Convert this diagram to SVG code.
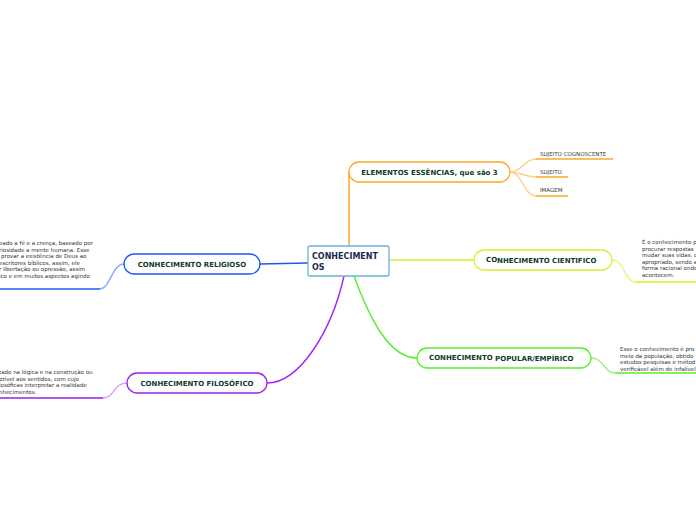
<svg xmlns="http://www.w3.org/2000/svg" width="696" height="520" viewBox="0 0 696 520">
<style>
.lbl{font-family:"DejaVu Sans",Verdana,sans-serif;font-weight:bold;font-size:7px;fill:#0f3a2c}
.ctr{font-family:"DejaVu Sans",Verdana,sans-serif;font-weight:bold;font-size:8px;fill:#1b2a4e}
.sm{font-family:"DejaVu Sans",Verdana,sans-serif;font-size:5.5px;fill:#333}
.node{fill:#fff;stroke-width:1.3}
.con{fill:none;stroke-width:1.4}
</style>
<rect width="696" height="520" fill="#fff"/>
<g id="connectors">
  <path class="con" d="M349,246 V172" stroke="#ff9f1c"/>
  <path class="con" d="M510,172 C522,172 524,159 536,159" stroke="#ffd08a" stroke-width="1"/>
  <path class="con" d="M510,172 C522,172 524,177 536,177" stroke="#ffd08a" stroke-width="1"/>
  <path class="con" d="M510,172 C522,172 524,196 536,196" stroke="#ffd08a" stroke-width="1"/>
  <path class="con" d="M536,159 H613 M536,177 H568 M536,196 H568" stroke="#ffa726" stroke-width="1.8"/>
  <path class="con" d="M308,263 L260,264" stroke="#2456e6"/>
  <path class="con" d="M124,264 C112,264 110,289 100,289" stroke="#86aaff" stroke-width="1"/>
  <path class="con" d="M100,289 H0" stroke="#1e5bf0" stroke-width="1.6"/>
  <path class="con" d="M344,276 C332,330 300,383 267,383" stroke="#a225f5"/>
  <path class="con" d="M127,383 C113,383 115,398 103,398" stroke="#d49cff" stroke-width="1"/>
  <path class="con" d="M103,398 H0" stroke="#9a1fe8" stroke-width="1.6"/>
  <path class="con" d="M389,260 H474" stroke="#d6f032"/>
  <path class="con" d="M612,260 C625,260 624,282 636,282" stroke="#e4f77a" stroke-width="1"/>
  <path class="con" d="M636,282 H696" stroke="#d6f032" stroke-width="2"/>
  <path class="con" d="M354,276 C370,320 390,358 417,358" stroke="#55ee2a"/>
  <path class="con" d="M591,358 C604,358 604,373 615,373" stroke="#9ef07e" stroke-width="1"/>
  <path class="con" d="M615,373 H696" stroke="#55ee2a" stroke-width="1.8"/>
</g>
<g id="center">
  <rect class="node" x="308" y="246" width="81" height="30" rx="2" stroke="#6aaee0" stroke-width="1.5"/>
  <text class="ctr" x="312" y="259">CONHECIMENT</text>
  <text class="ctr" x="312" y="270">OS</text>
</g>
<g id="elementos">
  <rect class="node" x="349" y="162" width="161" height="20" rx="10" stroke="#ffa726"/>
  <text class="lbl" x="429.5" y="174.5" text-anchor="middle">ELEMENTOS ESSÊNCIAS, que são 3</text>
</g>
<g id="sujeito-cognoscente"><text class="sm" x="540" y="156">SUJEITO COGNOSCENTE</text></g>
<g id="sujeito"><text class="sm" x="540" y="174">SUJEITO</text></g>
<g id="imagem"><text class="sm" x="540" y="192">IMAGEM</text></g>
<g id="religioso">
  <rect class="node" x="124" y="254" width="136" height="20" rx="10" stroke="#1a56ee"/>
  <text class="lbl" x="192" y="266.5" text-anchor="middle">CONHECIMENTO RELIGIOSO</text>
</g>
<g id="religioso-text">
  <text class="sm" x="-1" y="245">eado a fé e a crença, baseado por</text>
  <text class="sm" x="-1" y="251.5">riosidade a mente humana. Esse</text>
  <text class="sm" x="1" y="258">provar a existência de Deus ao</text>
  <text class="sm" x="-1" y="264.5">escritores bíblicos, assim, ele</text>
  <text class="sm" x="-1" y="271">r libertação ou opressão, assim</text>
  <text class="sm" x="-1" y="277.5">ico e em muitos aspectos agindo</text>
</g>
<g id="filosofico">
  <rect class="node" x="127" y="373" width="140" height="20" rx="10" stroke="#9a1fe8"/>
  <text class="lbl" x="197" y="385.5" text-anchor="middle">CONHECIMENTO FILOSÓFICO</text>
</g>
<g id="filosofico-text">
  <text class="sm" x="-1" y="374">tado na lógica e na construção ou</text>
  <text class="sm" x="-1" y="380.5">ptível aos sentidos, com cujo</text>
  <text class="sm" x="-1" y="387">losóficas interpretar a realidade</text>
  <text class="sm" x="-1" y="393.5">nhecimentos.</text>
</g>
<g id="cientifico">
  <rect class="node" x="474" y="250" width="138" height="20" rx="10" stroke="#d6f032"/>
  <text class="lbl" x="486" y="261.5">CO<tspan dy="1.5">NHECIMENTO CIENTIFICO</tspan></text>
</g>
<g id="cientifico-text">
  <text class="sm" x="642" y="244">É o conhecimento p</text>
  <text class="sm" x="642" y="250.5">procurar respostas</text>
  <text class="sm" x="642" y="257">mudar suas vidas. c</text>
  <text class="sm" x="642" y="263.5">apropriado, sendo a</text>
  <text class="sm" x="642" y="270">forma racional onde</text>
  <text class="sm" x="642" y="276.5">acontecem.</text>
</g>
<g id="popular">
  <rect class="node" x="417" y="348" width="174" height="20" rx="10" stroke="#55ee2a"/>
  <text class="lbl" x="429" y="359.5">CONHECIMENTO <tspan dy="1.5">POPULAR/EMPÍRICO</tspan></text>
</g>
<g id="popular-text">
  <text class="sm" x="620" y="351">Esse o conhecimento é pro</text>
  <text class="sm" x="620" y="357.5">meio da população, obtido</text>
  <text class="sm" x="620" y="364">estudos pesquisas e métod</text>
  <text class="sm" x="620" y="370.5">verificável além de infalível</text>
</g>
</svg>
